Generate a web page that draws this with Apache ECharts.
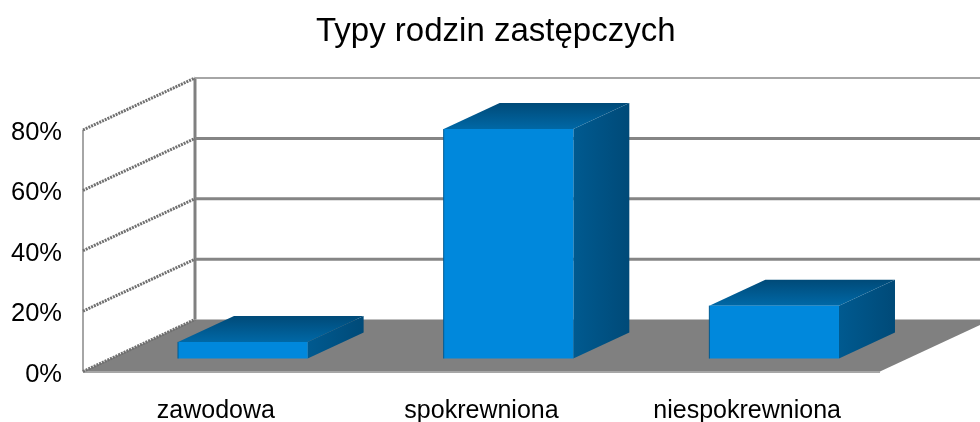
<!DOCTYPE html>
<html>
<head>
<meta charset="utf-8">
<style>
    html, body { margin: 0; padding: 0; background: #fff; }
    #chart { width: 980px; height: 422px; }
</style>
<script src="https://cdn.jsdelivr.net/npm/echarts@6/dist/echarts.min.js"></script>
</head>
<body>
<div id="chart"></div>
<script>
let categories = ["zawodowa", "spokrewniona", "niespokrewniona"];
let shares = [5.5, 76, 17.5];
let yTicks = [0, 20, 40, 60, 80];

// przesuniecie glebi
const depthX = 112;
const depthY = -52;
const barRatio = 0.488;

let chart = echarts.init(document.getElementById("chart"));

function renderWalls(params, api) {
    let tick = api.value(0);
    let left = api.coord([0, tick]);
    let right = api.coord([2, tick]);
    let band = api.size([1, 0])[0];
    let x0 = left[0] - band / 2;
    let x1 = right[0] + band / 2;
    let y = left[1];
    let children = [];

    if (tick === 0) {
        children.push({
            type: "polygon",
            shape: { points: [[x0, y], [x0 + depthX, y + depthY], [x1 + depthX, y + depthY], [x1, y]] },
            style: { fill: "#808080" },
        });
        children.push({
            type: "line",
            shape: { x1: x0, y1: y + 0.5, x2: x1, y2: y + 0.5 },
            style: { stroke: "#a6a6a6", lineWidth: 2 },
        });
        let top = api.coord([0, yTicks[yTicks.length - 1]])[1];
        children.push({
            type: "line",
            shape: { x1: x0, y1: y, x2: x0, y2: top },
            style: { stroke: "#a6a6a6", lineWidth: 2 },
        });
        children.push({
            type: "line",
            shape: { x1: x0 + depthX, y1: y + depthY, x2: x0 + depthX, y2: top + depthY },
            style: { stroke: "#808080", lineWidth: 3 },
        });
    } else {
        let isTop = tick === yTicks[yTicks.length - 1];
        children.push({
            type: "line",
            shape: { x1: x0 + depthX, y1: y + depthY, x2: x1 + depthX, y2: y + depthY },
            style: { stroke: isTop ? "#a6a6a6" : "#858585", lineWidth: isTop ? 2 : 3 },
        });
    }
    children.push({
        type: "line",
        shape: { x1: x0, y1: y, x2: x0 + depthX, y2: y + depthY },
        style: { stroke: "#707070", lineWidth: 3, lineDash: [2, 1] },
    });
    return { type: "group", children: children };
}

function renderBar(params, api) {
    let top = api.coord([api.value(0), api.value(1)]);
    let base = api.coord([api.value(0), 0]);
    let width = api.size([1, 0])[0] * barRatio;
    // slupek stoi w srodku glebi podlogi
    let sx = depthX / 4;
    let sy = depthY / 4;
    let dx = depthX / 2;
    let dy = depthY / 2;
    let x0 = base[0] - width / 2 + sx - 1;
    let x1 = x0 + width;
    let yb = base[1] + sy;
    let yt = top[1] + sy;
    return {
        type: "group",
        children: [
            {
                type: "polygon",
                shape: { points: [[x0, yt], [x0 + dx, yt + dy], [x1 + dx, yt + dy], [x1, yt]] },
                style: {
                    fill: new echarts.graphic.LinearGradient(0, 0, 0, 1, [
                        { offset: 0, color: "#004a78" },
                        { offset: 1, color: "#0068a6" },
                    ]),
                },
            },
            {
                type: "polygon",
                shape: { points: [[x1, yt], [x1 + dx, yt + dy], [x1 + dx, yb + dy], [x1, yb]] },
                style: {
                    fill: new echarts.graphic.LinearGradient(0, 0, 1, 0, [
                        { offset: 0, color: "#005a90" },
                        { offset: 1, color: "#004a78" },
                    ]),
                },
            },
            {
                type: "rect",
                shape: { x: x0, y: yt, width: width, height: yb - yt },
                style: { fill: "#0088dc" },
            },
            {
                type: "line",
                shape: { x1: x0, y1: yt, x2: x0, y2: yb },
                style: { stroke: "#005a90", lineWidth: 1 },
            },
        ],
    };
}

chart.setOption({
    animation: false,
    backgroundColor: "#fff",
    title: {
        text: "Typy rodzin zastępczych",
        left: 311,
        top: 10,
        textStyle: {
            fontFamily: "Liberation Sans",
            fontSize: 33,
            fontWeight: "normal",
            color: "#000",
        },
    },
    grid: { left: 83, width: 797, top: 130, height: 241.5, outerBoundsMode: "none" },
    xAxis: {
        type: "category",
        data: categories,
        axisLine: { show: false },
        axisTick: { show: false },
        axisLabel: {
            fontFamily: "Liberation Sans",
            fontSize: 25,
            color: "#000",
            margin: 27,
        },
    },
    yAxis: {
        type: "value",
        min: 0,
        max: 80,
        interval: 20,
        axisLine: { show: false },
        axisTick: { show: false },
        splitLine: { show: false },
        axisLabel: {
            formatter: "{value}%",
            fontFamily: "Liberation Sans",
            fontSize: 25.5,
            color: "#000",
            margin: 21,
            verticalAlign: "bottom",
            padding: [0, 0, -16, 0],
        },
    },
    series: [
        {
            type: "custom",
            z: 1,
            clip: false,
            silent: true,
            coordinateSystem: "cartesian2d",
            renderItem: renderWalls,
            encode: { y: 0 },
            data: yTicks.map((t) => [t]),
        },
        {
            type: "custom",
            z: 2,
            clip: false,
            coordinateSystem: "cartesian2d",
            renderItem: renderBar,
            encode: { x: 0, y: 1 },
            data: shares.map((v, i) => [i, v]),
        },
    ],
});
</script>
</body>
</html>
